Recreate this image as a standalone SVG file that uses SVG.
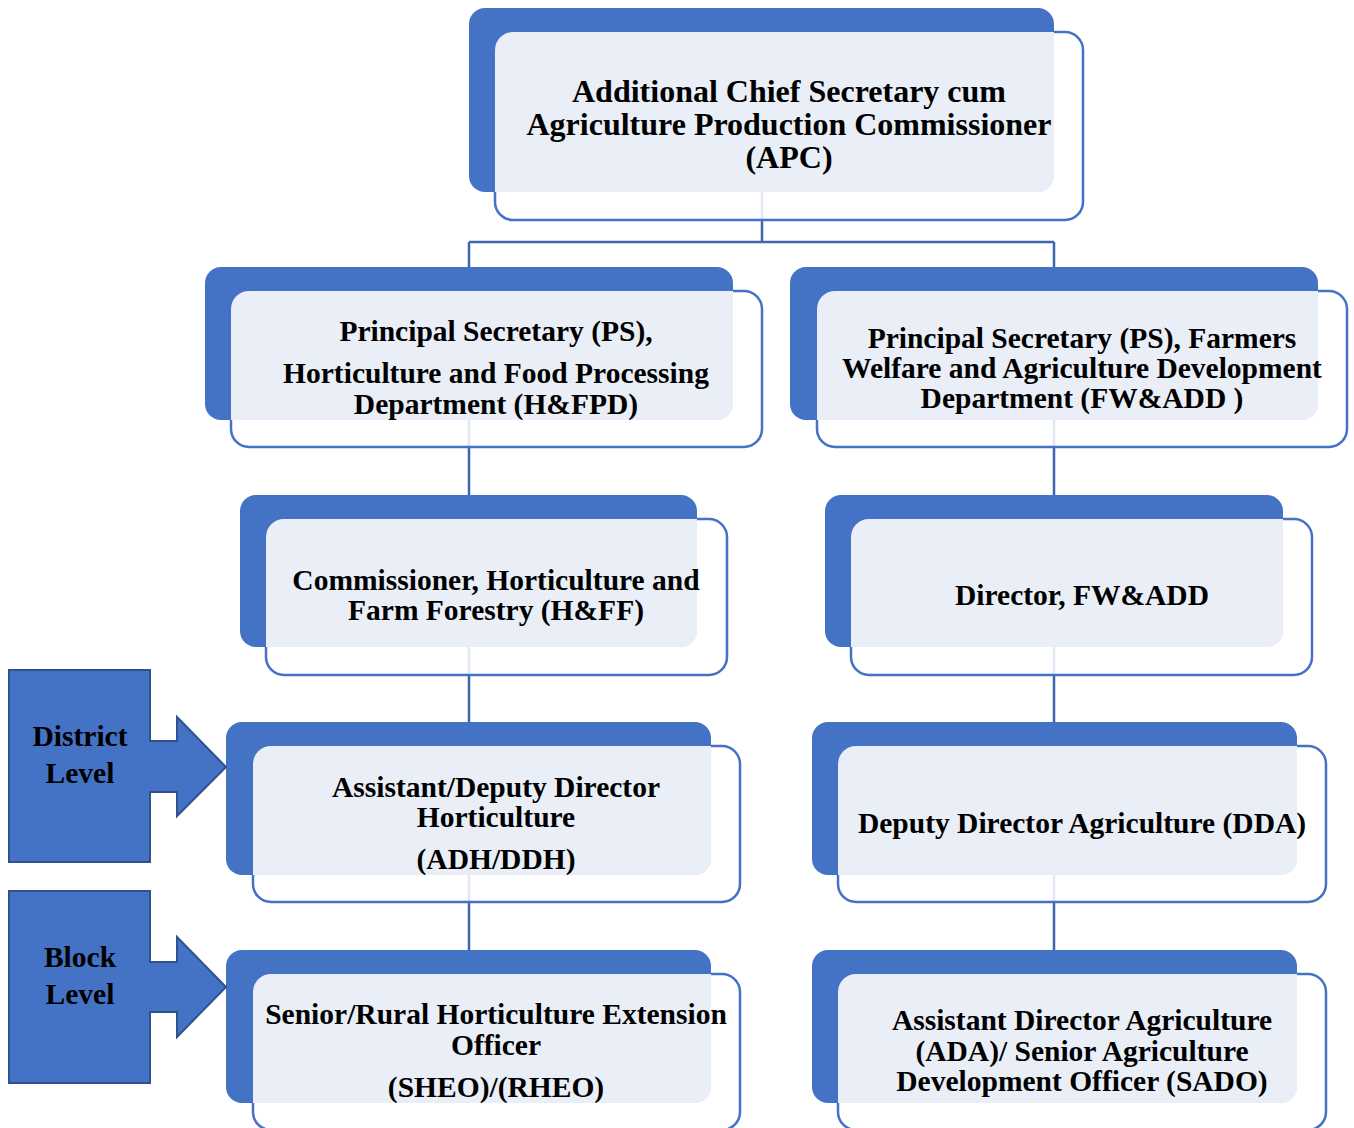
<svg xmlns="http://www.w3.org/2000/svg" width="1354" height="1128" viewBox="0 0 1354 1128">
<style>
.bk{fill:#4472C4}
.fr{fill:#ffffff;fill-opacity:0.85;stroke:#4472C4;stroke-width:2.5}
.lt{fill:#E9EEF7}
.t{font-family:"Liberation Serif","Times New Roman",serif;font-weight:bold;font-size:29.5px;fill:#000;text-anchor:middle}
.big{font-size:32px}
.cn{fill:none;stroke:#3D65B0;stroke-width:2.5}
.co{fill:#4472C4;stroke:#2F528F;stroke-width:2}
</style>
<rect width="1354" height="1128" fill="#ffffff"/>
<g id="connectors">
<path class="cn" d="M762,192 V242 M469,242 H1054 M469,242 V267 M1054,242 V267"/>
<path class="cn" d="M469,420 V495 M1054,420 V495"/>
<path class="cn" d="M469,647 V722 M1054,647 V722"/>
<path class="cn" d="M469,875 V950 M1054,875 V950"/>
</g>
<g id="n-apc">
<rect class="bk" x="469" y="8" width="585" height="184" rx="16"/>
<rect class="fr" x="495" y="32" width="588" height="188" rx="18"/>
<path class="lt" d="M513,32 H1054 V176 A16,16 0 0 1 1038,192 H495 V50 A18,18 0 0 1 513,32 Z"/>
<text class="t big" x="789" y="102">Additional Chief Secretary cum</text>
<text class="t big" x="789" y="135">Agriculture Production Commissioner</text>
<text class="t big" x="789" y="168">(APC)</text>
</g>
<g id="n-hfpd">
<rect class="bk" x="205" y="267" width="528" height="153" rx="16"/>
<rect class="fr" x="231" y="291" width="531" height="156" rx="18"/>
<path class="lt" d="M249,291 H733 V404 A16,16 0 0 1 717,420 H231 V309 A18,18 0 0 1 249,291 Z"/>
<text class="t" x="496" y="341">Principal Secretary (PS),</text>
<text class="t" x="496" y="383">Horticulture and Food Processing</text>
<text class="t" x="496" y="414">Department (H&amp;FPD)</text>
</g>
<g id="n-fwadd">
<rect class="bk" x="790" y="267" width="528" height="153" rx="16"/>
<rect class="fr" x="817" y="291" width="530" height="156" rx="18"/>
<path class="lt" d="M835,291 H1318 V404 A16,16 0 0 1 1302,420 H817 V309 A18,18 0 0 1 835,291 Z"/>
<text class="t" x="1082" y="348">Principal Secretary (PS), Farmers</text>
<text class="t" x="1082" y="378">Welfare and Agriculture Development</text>
<text class="t" x="1082" y="408">Department (FW&amp;ADD )</text>
</g>
<g id="n-hff">
<rect class="bk" x="240" y="495" width="457" height="152" rx="16"/>
<rect class="fr" x="266" y="519" width="461" height="156" rx="18"/>
<path class="lt" d="M284,519 H697 V631 A16,16 0 0 1 681,647 H266 V537 A18,18 0 0 1 284,519 Z"/>
<text class="t" x="496" y="590">Commissioner, Horticulture and</text>
<text class="t" x="496" y="620">Farm Forestry (H&amp;FF)</text>
</g>
<g id="n-dir">
<rect class="bk" x="825" y="495" width="458" height="152" rx="16"/>
<rect class="fr" x="851" y="519" width="461" height="156" rx="18"/>
<path class="lt" d="M869,519 H1283 V631 A16,16 0 0 1 1267,647 H851 V537 A18,18 0 0 1 869,519 Z"/>
<text class="t" x="1082" y="605">Director, FW&amp;ADD</text>
</g>
<g id="n-adh">
<rect class="bk" x="226" y="722" width="485" height="153" rx="16"/>
<rect class="fr" x="253" y="746" width="487" height="156" rx="18"/>
<path class="lt" d="M271,746 H711 V859 A16,16 0 0 1 695,875 H253 V764 A18,18 0 0 1 271,746 Z"/>
<text class="t" x="496" y="797">Assistant/Deputy Director</text>
<text class="t" x="496" y="827">Horticulture</text>
<text class="t" x="496" y="869">(ADH/DDH)</text>
</g>
<g id="n-dda">
<rect class="bk" x="812" y="722" width="485" height="153" rx="16"/>
<rect class="fr" x="838" y="746" width="488" height="156" rx="18"/>
<path class="lt" d="M856,746 H1297 V859 A16,16 0 0 1 1281,875 H838 V764 A18,18 0 0 1 856,746 Z"/>
<text class="t" x="1082" y="833">Deputy Director Agriculture (DDA)</text>
</g>
<g id="n-sheo">
<rect class="bk" x="226" y="950" width="485" height="153" rx="16"/>
<rect class="fr" x="253" y="974" width="487" height="156" rx="18"/>
<path class="lt" d="M271,974 H711 V1087 A16,16 0 0 1 695,1103 H253 V992 A18,18 0 0 1 271,974 Z"/>
<text class="t" x="496" y="1024">Senior/Rural Horticulture Extension</text>
<text class="t" x="496" y="1055">Officer</text>
<text class="t" x="496" y="1097">(SHEO)/(RHEO)</text>
</g>
<g id="n-ada">
<rect class="bk" x="812" y="950" width="485" height="153" rx="16"/>
<rect class="fr" x="838" y="974" width="488" height="156" rx="18"/>
<path class="lt" d="M856,974 H1297 V1087 A16,16 0 0 1 1281,1103 H838 V992 A18,18 0 0 1 856,974 Z"/>
<text class="t" x="1082" y="1030">Assistant Director Agriculture</text>
<text class="t" x="1082" y="1061">(ADA)/ Senior Agriculture</text>
<text class="t" x="1082" y="1091">Development Officer (SADO)</text>
</g>
<g id="n-district">
<path class="co" d="M9,670 H150 V741 H177 V717 L226,767 L177,816 V792 H150 V862 H9 Z"/>
<text class="t" x="80" y="746">District</text>
<text class="t" x="80" y="783">Level</text>
</g>
<g id="n-block">
<path class="co" d="M9,891 H150 V962 H177 V937 L226,987 L177,1037 V1012 H150 V1083 H9 Z"/>
<text class="t" x="80" y="967">Block</text>
<text class="t" x="80" y="1004">Level</text>
</g>
</svg>
